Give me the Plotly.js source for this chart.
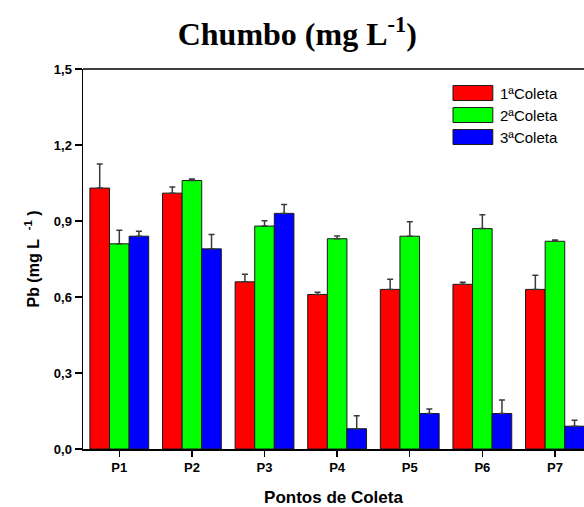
<!DOCTYPE html>
<html>
<head>
<meta charset="utf-8">
<script src="https://cdn.plot.ly/plotly-3.0.1.min.js"></script>
<style>
  html, body { margin: 0; padding: 0; background: #fff; }
  #chart { width: 584px; height: 507px; }
</style>
</head>
<body>
<div id="chart"></div>
<script>
// Sampling points
const points = ['P1', 'P2', 'P3', 'P4', 'P5', 'P6', 'P7'];

// Mean lead concentration per campaign (mg/L)
const coleta1 = [1.03, 1.01, 0.66, 0.61, 0.63, 0.65, 0.63];
const coleta2 = [0.81, 1.06, 0.88, 0.83, 0.84, 0.87, 0.82];
const coleta3 = [0.84, 0.79, 0.93, 0.08, 0.14, 0.14, 0.09];

// Upper error (standard deviation)
const erro1 = [0.095, 0.024, 0.030, 0.009, 0.040, 0.008, 0.056];
const erro2 = [0.053, 0.006, 0.021, 0.011, 0.057, 0.055, 0.005];
const erro3 = [0.020, 0.057, 0.035, 0.051, 0.018, 0.053, 0.023];

const seriesNames = ['1ªColeta', '2ªColeta', '3ªColeta'];
const seriesColors = ['#ff0000', '#00ff00', '#0000ff'];

const sansFont = 'Arial, "Liberation Sans", sans-serif';

function barTrace(values, errors, name, color) {
  return {
    type: 'bar',
    x: points,
    y: values,
    name: name,
    showlegend: false,
    marker: { color: color, line: { color: '#1a1a1a', width: 1 } },
    error_y: {
      type: 'data',
      symmetric: false,
      array: errors,
      arrayminus: errors.map(() => 0),
      color: '#3a3a3a',
      thickness: 1.5,
      width: 3
    }
  };
}

const data = [
  barTrace(coleta1, erro1, seriesNames[0], seriesColors[0]),
  barTrace(coleta2, erro2, seriesNames[1], seriesColors[1]),
  barTrace(coleta3, erro3, seriesNames[2], seriesColors[2])
];

// Boxed legend in the upper-right corner of the plotting area (paper coords)
const legendShapes = [];
const legendLabels = [];
const legX0 = 0.7385, legX1 = 0.818, legTextX = 0.8276;
const legY0 = 0.9368, legStep = 0.0579, legHalf = 0.0197;
seriesNames.forEach((name, i) => {
  const yc = legY0 - i * legStep;
  legendShapes.push({
    type: 'rect', xref: 'paper', yref: 'paper',
    x0: legX0, x1: legX1, y0: yc - legHalf, y1: yc + legHalf,
    fillcolor: seriesColors[i], line: { color: '#1a1a1a', width: 1 }
  });
  legendLabels.push({
    xref: 'paper', yref: 'paper', x: legTextX, y: yc,
    xanchor: 'left', yanchor: 'middle', showarrow: false,
    text: name, font: { family: sansFont, size: 15, color: '#000' }
  });
});

const layout = {
  width: 584,
  height: 507,
  margin: { l: 83, r: 0, t: 69, b: 58 },
  paper_bgcolor: '#fff',
  plot_bgcolor: '#fff',
  separators: ',.',
  barmode: 'group',
  bargap: 0.19,
  bargroupgap: 0,
  showlegend: false,
  title: {
    text: '<b>Chumbo (mg L<sup>-1</sup>)</b>',
    font: { family: '"Liberation Serif", "Times New Roman", serif', size: 32, color: '#000' },
    xref: 'container', x: 0.509, xanchor: 'center',
    yref: 'container', y: 0.933, yanchor: 'middle'
  },
  xaxis: {
    type: 'category',
    range: [-0.5, 6.4],
    showline: true, linecolor: '#000', linewidth: 1.5,
    mirror: false,
    ticks: 'outside', ticklen: 6, tickwidth: 1.5, tickcolor: '#000',
    tickfont: { family: sansFont, size: 13, color: '#000', weight: 'bold' },
    showgrid: false, zeroline: false,
    title: {
      text: '<b>Pontos de Coleta</b>',
      font: { family: sansFont, size: 17, color: '#000' },
      standoff: 20
    }
  },
  yaxis: {
    range: [0, 1.5],
    tickvals: [0, 0.3, 0.6, 0.9, 1.2, 1.5],
    tickformat: '.1f',
    showline: true, linecolor: '#000', linewidth: 1.5,
    ticks: 'outside', ticklen: 7, tickwidth: 1.5, tickcolor: '#000',
    tickfont: { family: sansFont, size: 13, color: '#000', weight: 'bold' },
    showgrid: false, zeroline: false,
    title: {
      text: '<b>Pb (mg L&nbsp;&nbsp;<sup>-1</sup>&nbsp;)</b>',
      font: { family: sansFont, size: 16, color: '#000' },
      standoff: 10
    }
  },
  shapes: [
    // top frame line of the plotting area
    { type: 'line', xref: 'paper', yref: 'paper', x0: 0, x1: 1, y0: 1, y1: 1,
      line: { color: '#000', width: 1.5 } }
  ].concat(legendShapes),
  annotations: legendLabels
};

Plotly.newPlot('chart', data, layout, { displayModeBar: false, staticPlot: true });
</script>
</body>
</html>
